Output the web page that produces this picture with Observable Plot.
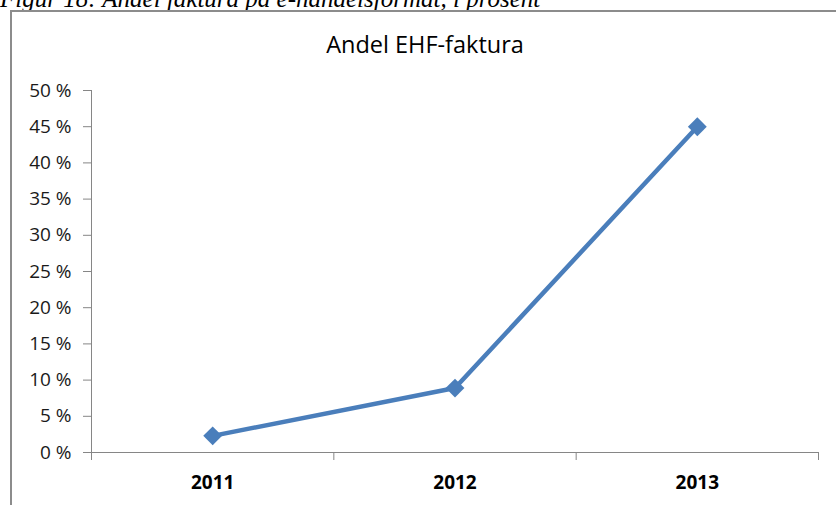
<!DOCTYPE html>
<html>
<head>
<meta charset="utf-8">
<script src="https://cdn.jsdelivr.net/npm/d3@7"></script>
<script src="https://cdn.jsdelivr.net/npm/@observablehq/plot@0.6"></script>
<style>
  body { margin: 0; background: #fff; }
  #wrap { position: relative; width: 836px; height: 505px; overflow: hidden; background: #fff; }
  #caption { position: absolute; left: 0; top: -15px; line-height: 30px; font: italic 25px "Liberation Serif", serif; white-space: nowrap; color: #000; }
  #box { position: absolute; left: 10px; top: 10px; width: 900px; height: 600px; border: 2px solid #8c8c8c; box-sizing: border-box; background: #fff; }
  #chart { position: absolute; left: 0; top: 0; }
  #title { position: absolute; left: 0; width: 850px; top: 32px; text-align: center; font: 23.5px "Open Sans", sans-serif; line-height: 24px; color: #000; }
</style>
</head>
<body>
<div id="wrap">
  <div id="caption">Figur 18: Andel faktura på e-handelsformat, i prosent</div>
  <div id="box"></div>
  <div id="chart"></div>
  <div id="title">Andel EHF-faktura</div>
</div>
<script>
const years = [2011, 2012, 2013];
const shares = [2.3, 8.9, 45.0]; // percent
const yTicks = [0, 5, 10, 15, 20, 25, 30, 35, 40, 45, 50];
const xBoundaries = [2010.5, 2011.5, 2012.5, 2013.5];

const data = years.map((year, i) => ({ year, share: shares[i] }));
const axisColor = "#868686";
const lineColor = "#4a7ebb";

const chart = Plot.plot({
  width: 836,
  height: 505,
  marginLeft: 91,
  marginRight: 18,
  marginTop: 90,
  marginBottom: 53,
  style: { fontFamily: "'Open Sans', sans-serif", fontSize: "19px", background: "transparent", color: "#000" },
  x: { domain: [xBoundaries[0], xBoundaries[xBoundaries.length - 1]] },
  y: { domain: [0, 50] },
  marks: [
    Plot.ruleX([xBoundaries[0]], { y1: 0, y2: 50, stroke: axisColor }),
    Plot.ruleY([0], { x1: xBoundaries[0], x2: xBoundaries[xBoundaries.length - 1], stroke: axisColor }),
    Plot.axisY({ ticks: yTicks, tickFormat: d => `${d} %`, tickSize: 8, tickPadding: 12, stroke: axisColor, fill: "#1a1a1a", label: null }),
    Plot.axisX({ ticks: xBoundaries, tickFormat: () => "", tickSize: 8, stroke: axisColor, label: null }),
    Plot.axisX({ ticks: years, tickFormat: d => String(d), tickSize: 0, tickPadding: 23, fontWeight: "bold", fill: "#000", label: null }),
    Plot.line(data, { x: "year", y: "share", stroke: lineColor, strokeWidth: 4.5 }),
    Plot.dot(data, { x: "year", y: "share", symbol: "diamond2", r: 8.5, fill: lineColor, stroke: "none" })
  ]
});
document.getElementById("chart").appendChild(chart);
</script>
</body>
</html>
